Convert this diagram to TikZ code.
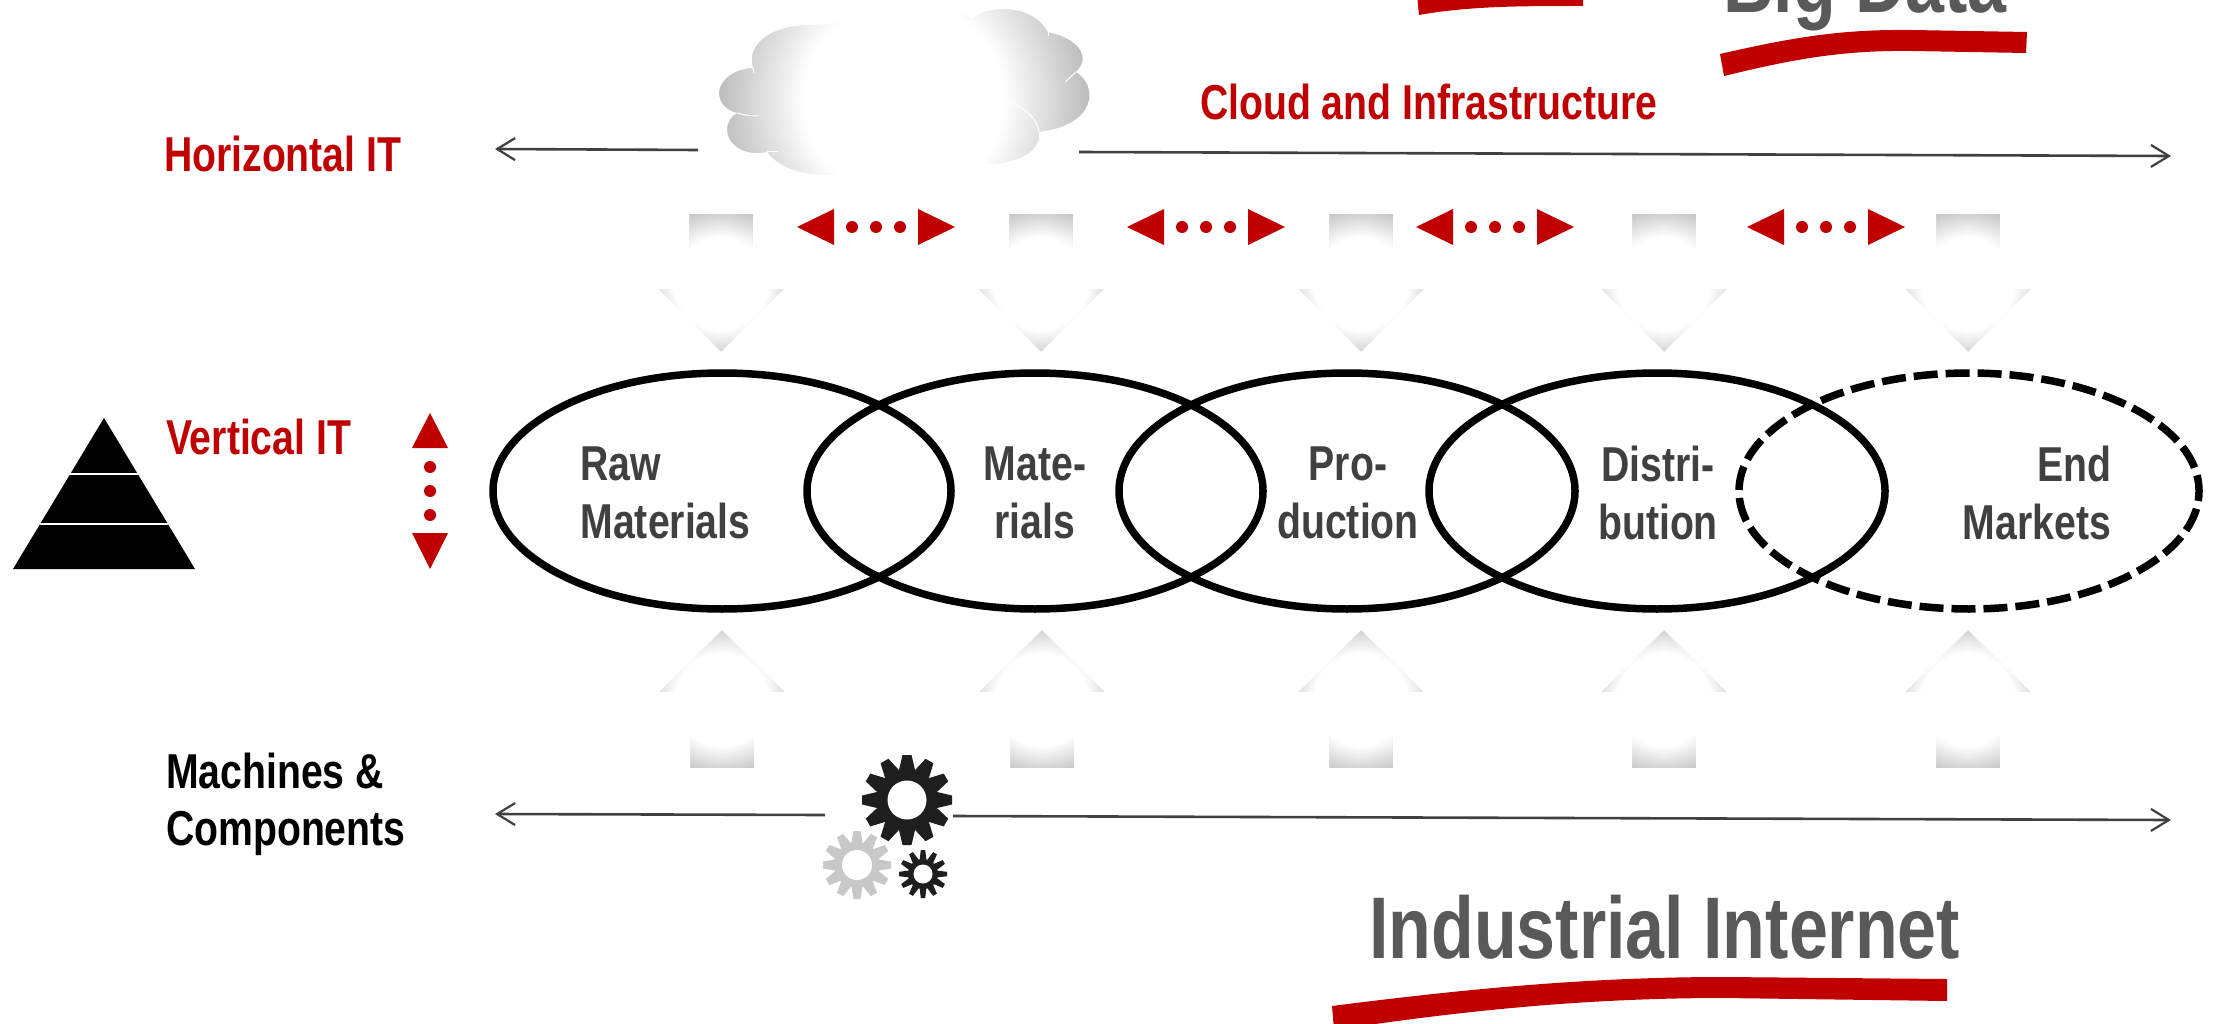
\documentclass[tikz,border=0pt]{standalone}
\usepackage{fontspec}
\setmainfont{Liberation Sans}[FakeStretch=0.8]
\usetikzlibrary{arrows.meta}
\definecolor{dkred}{HTML}{C00000}
\definecolor{txtg}{HTML}{404040}
\definecolor{headg}{HTML}{595959}
\definecolor{geard}{HTML}{1E1E1E}
\definecolor{gearl}{HTML}{C8C8C8}
\tikzset{
  lbl/.style={inner sep=0pt,outer sep=0pt,font=\bfseries\fontsize{#1}{#1}\selectfont},
  redlbl/.style={lbl=49,text=dkred,anchor=base west},
  blacklbl/.style={lbl=49,text=black,anchor=base west},
  title/.style={lbl=87.5,text=headg,anchor=base west},
  stagelbl/.style={inner sep=0pt,outer sep=0pt,font=\bfseries\fontsize{49}{58}\selectfont,text=txtg,anchor=center},
  stage/.style={draw=black,line width=7.5pt},
  hline/.style={draw=txtg,line width=2.6pt,-{Straight Barb[length=18pt,width=22pt,line width=2.2pt]}},
  swoosh/.style={fill=dkred,draw=none},
  cloudedge/.style={white,line width=1pt},
  mask/.style={fill=white,even odd rule,draw=none},
}
% nested discs that fade from grey at radius #3 to white at radius #4 (#5: grey percent of black at #3)
\newcommand{\fadedisc}[5]{%
  \foreach \r in {#3,...,#4}{%
    \pgfmathsetmacro{\g}{#5*(\r-#4)/(#3-#4)}%
    \fill[black!\g!white] (#1,#2) circle (\r);}%
  }
\newcommand{\downarrowfade}[1]{%
  \fadedisc{#1}{284}{80}{47}{25}
  \fill[mask] (#1-82,202) rectangle (#1+82,366)
    (#1-32,214) -- (#1+32,214) -- (#1+32,289) -- (#1+63,289) -- (#1,352) -- (#1-63,289) -- (#1-32,289) -- cycle;}
\newcommand{\uparrowfade}[1]{%
  \fadedisc{#1}{700}{80}{47}{25}
  \fill[mask] (#1-82,618) rectangle (#1+82,782)
    (#1-32,768) -- (#1+32,768) -- (#1+32,692) -- (#1+63,692) -- (#1,630) -- (#1-63,692) -- (#1-32,692) -- cycle;}
\newcommand{\redpair}[1]{%
  \fill[dkred] (#1,227) -- (#1+37,209) -- (#1+37,245) -- cycle;
  \foreach \d in {55,79,103}{\fill[dkred] (#1+\d,227) circle (6);}
  \fill[dkred] (#1+158,227) -- (#1+121,209) -- (#1+121,245) -- cycle;}
% x y R body hole colour basehalf tiphalf
\newcommand{\gearshape}[8]{%
  \begin{scope}[shift={(#1,#2)}]
    \fill[#6] (0,0) circle (#4);
    \foreach \a in {0,30,...,330}{
      \fill[#6,rotate=\a] (-#7,-#4+1) -- (-#8,-#3) -- (#8,-#3) -- (#7,-#4+1) -- cycle;}
    \fill[white] (0,0) circle (#5);
  \end{scope}}
\begin{document}
\begin{tikzpicture}[x=1pt,y=-1pt]
\useasboundingbox (0,0) rectangle (2218,1024);
\clip (0,0) rectangle (2218,1024);
\fill[white] (0,0) rectangle (2218,1024);

% cloud: fade first, then a white mask with the cloud cut out of it
\fadedisc{904}{100}{192}{100}{28}
\fill[mask] (705,-100) rectangle (1105,300)
  (753,68) .. controls (745,42) and (775,25) .. (809,25)
    .. controls (850,25) and (930,0) .. (973,18)
    .. controls (985,6) and (1032,2) .. (1048,32)
    .. controls (1078,38) and (1092,57) .. (1076,72)
    .. controls (1098,85) and (1098,125) .. (1039,132)
    .. controls (1042,150) and (1020,164) .. (987,164)
    .. controls (940,170) and (880,175) .. (826,175)
    .. controls (800,175) and (778,167) .. (767,152)
    .. controls (745,157) and (727,145) .. (727,130)
    .. controls (727,122) and (731,116) .. (737,113)
    .. controls (725,110) and (719,102) .. (719,93)
    .. controls (719,80) and (735,68) .. (753,68) -- cycle;
\draw[cloudedge] (737,113) .. controls (745,115) and (750,116) .. (759,116);
\draw[cloudedge] (753,68) -- (754,73);
\draw[cloudedge] (767,152) -- (778,152);
\draw[cloudedge] (1048,32) -- (1048,36);
\draw[cloudedge] (1076,72) -- (1065,82);
\draw[cloudedge] (1010,102) .. controls (1025,108) and (1037,118) .. (1039,132);

% fade arrows
\downarrowfade{721}\downarrowfade{1041}\downarrowfade{1361}\downarrowfade{1664}\downarrowfade{1968}
\uparrowfade{722}\uparrowfade{1042}\uparrowfade{1361}\uparrowfade{1664}\uparrowfade{1968}

% swooshes
\fill[swoosh] (1417,-5) -- (1419,15) .. controls (1470,6) and (1520,6) .. (1583,6) -- (1583,-5) -- cycle;
\fill[swoosh] (1720,54) .. controls (1790,38) and (1840,29) .. (1912,30) -- (2027,32) -- (2026,53) -- (1912,51) .. controls (1840,50) and (1790,60) .. (1724,76) -- cycle;
\fill[swoosh] (1332,1006) .. controls (1480,987) and (1600,977) .. (1724,977) -- (1947,979) -- (1947,1001) -- (1724,998) .. controls (1600,998) and (1480,1008) .. (1334,1030) -- cycle;

% titles
\node[title] (bigdata) at (1723,13) {Big Data};
\node[title] (indnet) at (1369,958) {Industrial Internet};
\node[redlbl] (cloudlbl) at (1200,120) {Cloud and Infrastructure};
\node[redlbl] (horiz) at (164,172) {Horizontal IT};
\node[redlbl] (vert) at (166,454) {Vertical IT};
\node[blacklbl] (mach1) at (166,788) {Machines \&};
\node[blacklbl] (mach2) at (166,845) {Components};

% horizontal lines
\coordinate (t1) at (698,150); \coordinate (t2) at (495,149);
\coordinate (t3) at (1079,152); \coordinate (t4) at (2171,156);
\coordinate (b1) at (825,815); \coordinate (b2) at (495,814);
\coordinate (b3) at (953,816); \coordinate (b4) at (2171,820);
\draw[hline] (t1) -- (t2);
\draw[hline] (t3) -- (t4);
\draw[hline] (b1) -- (b2);
\draw[hline] (b3) -- (b4);

% red arrows
\redpair{797}\redpair{1127}\redpair{1416}\redpair{1747}
\fill[dkred] (430,413) -- (448,448) -- (412,448) -- cycle;
\foreach \d in {467,491,515}{\fill[dkred] (430,\d) circle (6);}
\fill[dkred] (430,569) -- (448,533) -- (412,533) -- cycle;

% pyramid
\fill[black] (104,418) -- (195,569) -- (13,569) -- cycle;
\draw[white,line width=1.6pt] (60,474) -- (150,474);
\draw[white,line width=1.6pt] (30,524) -- (180,524);

% ellipses
\draw[stage] (722,491) ellipse (229 and 118);
\draw[stage] (1035,491) ellipse (228 and 118);
\draw[stage] (1347,491) ellipse (228 and 118);
\draw[stage] (1657,491) ellipse (228 and 118);
\draw[stage,dash pattern=on 24pt off 8pt,dash phase=14pt] (1969,491) ellipse (230 and 118);

% stage labels
\node[stagelbl,align=left] (s1) at (665.5,493) {Raw\\Materials};
\node[stagelbl,align=center] (s2) at (1035,493) {Mate-\\rials};
\node[stagelbl,align=center] (s3) at (1348,493) {Pro-\\duction};
\node[stagelbl,align=center] (s4) at (1658,493) {Distri-\\bution};
\node[stagelbl,align=right] (s5) at (2037,493) {End\\Markets};

% gears
\gearshape{857}{865}{34}{23}{15}{gearl}{5.5}{3.5}
\gearshape{907}{800}{45}{31}{19.5}{geard}{8}{4.5}
\gearshape{923}{874}{24}{15}{9.5}{geard}{3.4}{2.2}
\end{tikzpicture}
\end{document}
